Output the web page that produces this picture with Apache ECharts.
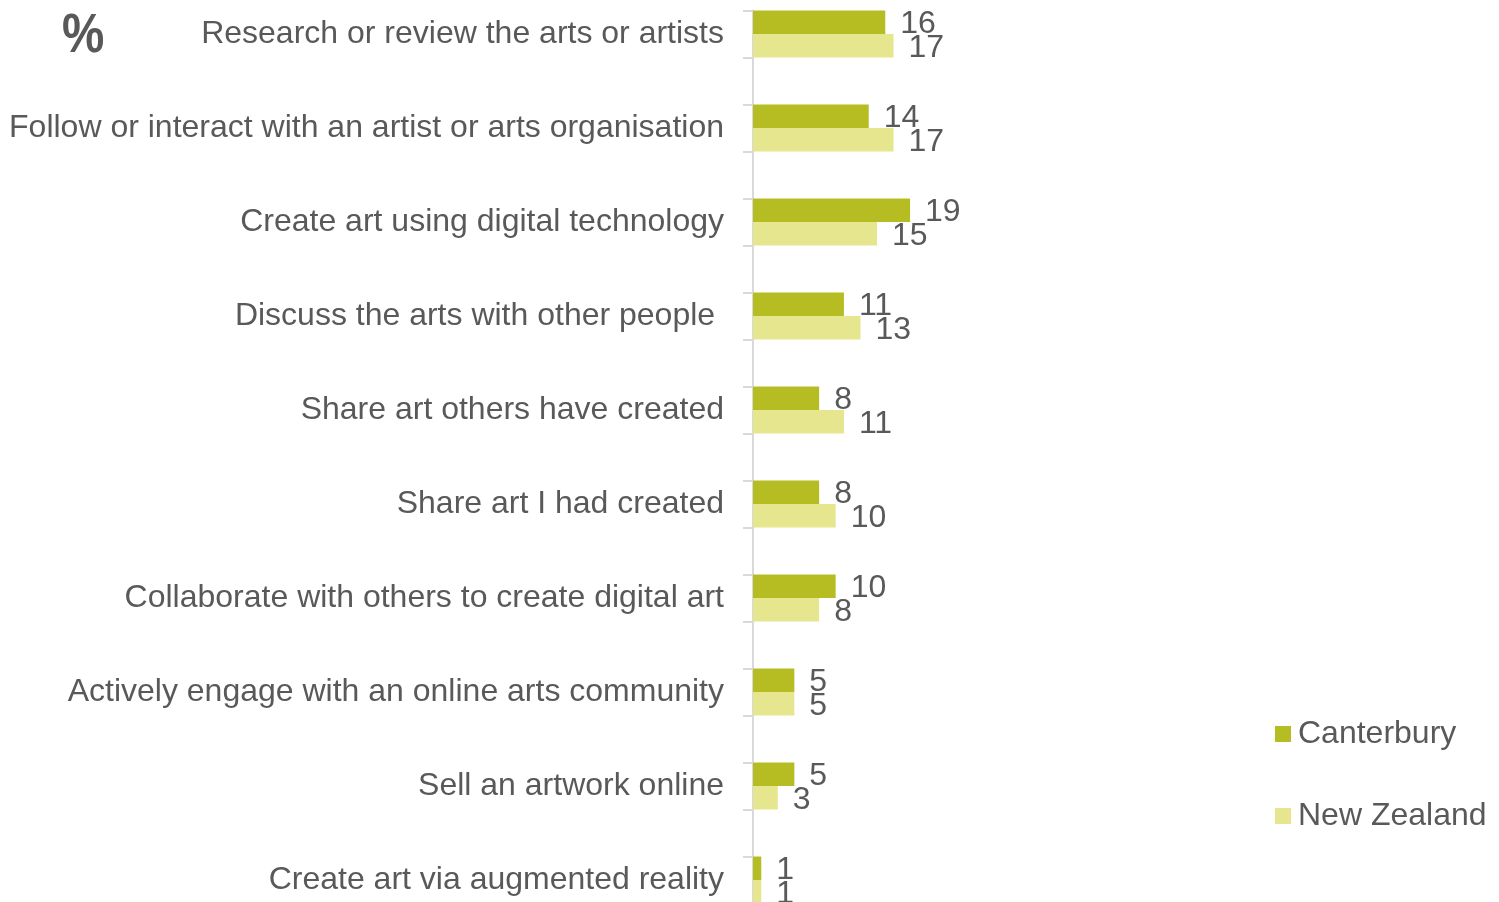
<!DOCTYPE html>
<html>
<head>
<meta charset="utf-8">
<script src="https://cdn.jsdelivr.net/npm/echarts@6/dist/echarts.min.js"></script>
<style>
  html, body { margin: 0; padding: 0; background: #fff; }
  #chart { width: 1499px; height: 902px; }
</style>
</head>
<body>
<div id="chart"></div>
<script>
  // data
  const categories = [
    'Research or review the arts or artists',
    'Follow or interact with an artist or arts organisation',
    'Create art using digital technology',
    'Discuss the arts with other people ',
    'Share art others have created',
    'Share art I had created',
    'Collaborate with others to create digital art',
    'Actively engage with an online arts community',
    'Sell an artwork online',
    'Create art via augmented reality'
  ];
  const canterbury = [16, 14, 19, 11, 8, 8, 10, 5, 5, 1];
  const newZealand = [17, 17, 15, 13, 11, 10, 8, 5, 3, 1];

  const textGrey = '#595959';
  const font = 'Liberation Sans, Arial, sans-serif';

  let chart = echarts.init(document.getElementById('chart'));

  let labelStyle = {
    show: true,
    position: 'right',
    distance: 15,
    offset: [0, 2],
    color: textGrey,
    fontSize: 32,
    fontFamily: font
  };

  let option = {
    animation: false,
    textStyle: { fontFamily: font },
    graphic: [{
      type: 'text',
      left: 62,
      top: 9,
      scaleX: 0.85,
      style: {
        text: '%',
        fontSize: 56,
        fontWeight: 'bold',
        fontFamily: font,
        fill: textGrey
      }
    }],
    legend: {
      orient: 'vertical',
      left: 1275,
      top: 718,
      padding: 0,
      itemWidth: 16,
      itemHeight: 16,
      itemGap: 50,
      icon: 'rect',
      textStyle: {
        color: textGrey,
        fontSize: 32,
        fontFamily: font,
        padding: [0, 0, 0, 2]
      },
      data: ['Canterbury', 'New Zealand']
    },
    grid: [
      {
        left: 753, right: 250, top: -13, bottom: -25,
        outerBoundsMode: 'none'
      },
      {
        // only carries the axis line with its ticks
        left: 753, right: 250, top: 10.5, bottom: -25,
        outerBoundsMode: 'none'
      }
    ],
    xAxis: [
      {
        type: 'value',
        gridIndex: 0,
        min: 0,
        max: 60,
        show: false
      },
      {
        type: 'value',
        gridIndex: 1,
        min: 0,
        max: 60,
        show: false
      }
    ],
    yAxis: [
      {
        type: 'category',
        gridIndex: 0,
        inverse: true,
        data: categories,
        axisLine: { show: false },
        axisTick: { show: false },
        axisLabel: {
          color: textGrey,
          fontSize: 32,
          fontFamily: font,
          margin: 29,
          padding: [4, 0, 0, 0]
        }
      },
      {
        type: 'value',
        gridIndex: 1,
        inverse: true,
        min: 0,
        max: 39,
        interval: 2,
        axisLine: {
          show: true,
          lineStyle: { color: '#d9d9d9', width: 2 }
        },
        axisTick: {
          show: true,
          length: 10,
          lineStyle: { color: '#d9d9d9', width: 2 }
        },
        axisLabel: { show: false },
        splitLine: { show: false }
      }
    ],
    series: [
      {
        name: 'Canterbury',
        type: 'bar',
        xAxisIndex: 0,
        yAxisIndex: 0,
        color: '#b5bd22',
        barGap: '0%',
        barCategoryGap: '50%',
        label: labelStyle,
        data: canterbury
      },
      {
        name: 'New Zealand',
        type: 'bar',
        xAxisIndex: 0,
        yAxisIndex: 0,
        color: '#e5e68d',
        barGap: '0%',
        barCategoryGap: '50%',
        label: labelStyle,
        data: newZealand
      }
    ]
  };

  chart.setOption(option);
</script>
</body>
</html>
